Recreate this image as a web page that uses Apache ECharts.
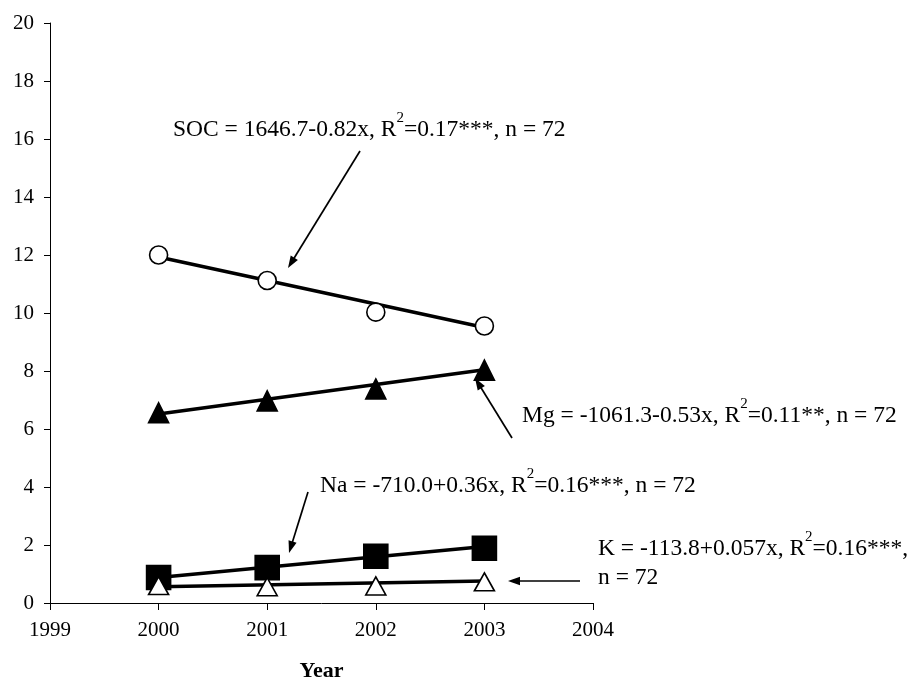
<!DOCTYPE html>
<html>
<head>
<meta charset="utf-8">
<script src="https://cdn.jsdelivr.net/npm/echarts@6/dist/echarts.min.js"></script>
<style>
html,body{margin:0;padding:0;background:#fff;}
#chart{width:909px;height:691px;}
</style>
</head>
<body>
<div id="chart"></div>
<script>
// ---- data ----
const years = [2000, 2001, 2002, 2003];
const socValues = [12.0, 11.12, 10.03, 9.55];
const mgValues = [6.56, 6.97, 7.38, 8.03];
const naValues = [0.88, 1.22, 1.61, 1.89];
const kValues = [0.6, 0.56, 0.59, 0.73];
const trendYears = [2000, 2003];
const socTrend = [11.93, 9.5];
const mgTrend = [6.52, 8.04];
const naTrend = [0.88, 1.95];
const kTrend = [0.56, 0.76];
const xTicks = [1999, 2000, 2001, 2002, 2003, 2004];
const yTicks = [0, 2, 4, 6, 8, 10, 12, 14, 16, 18, 20];
const labelSOC = ['SOC = 1646.7-0.82x, R', '2', '=0.17***, n = 72'];
const labelMg = ['Mg = -1061.3-0.53x, R', '2', '=0.11**, n = 72'];
const labelNa = ['Na = -710.0+0.36x, R', '2', '=0.16***, n = 72'];
const labelK = ['K = -113.8+0.057x, R', '2', '=0.16***,'];
const labelK2 = 'n = 72';

const FONT = "'Times New Roman', 'Liberation Serif', serif";
const EQ_SIZE = 23.5;
const chart = echarts.init(document.getElementById('chart'), null, {renderer: 'canvas'});

function pts(xs, ys) { return xs.map((x, i) => [x, ys[i]]); }

function trendSeries(name, ys, z) {
  return {
    name: name, type: 'line', data: pts(trendYears, ys), symbol: 'none',
    lineStyle: {color: '#000', width: 3.5}, z: z, silent: true, animation: false
  };
}
function markerSeries(name, ys, symbol, size, fill, z) {
  return {
    name: name, type: 'scatter', data: pts(years, ys), symbol: symbol, symbolSize: size,
    itemStyle: {color: fill, borderColor: '#000', borderWidth: 1.6, opacity: 1}, z: z, animation: false
  };
}

const rich = {
  n: {fontFamily: FONT, fontSize: EQ_SIZE, lineHeight: 31, verticalAlign: 'bottom', color: '#000'},
  s: {fontFamily: FONT, fontSize: 15, lineHeight: 15, verticalAlign: 'top', color: '#000'}
};
function eqText(parts, x, y) {
  return {
    type: 'text', x: x, y: y - 4, silent: true,
    style: {
      text: '{n|' + parts[0] + '}{s|' + parts[1] + '}{n|' + parts[2] + '}',
      rich: rich, verticalAlign: 'middle', align: 'left'
    }
  };
}
function plainText(t, x, y) {
  return {
    type: 'text', x: x, y: y, silent: true,
    style: {text: t, fontFamily: FONT, fontSize: EQ_SIZE, fill: '#000', verticalAlign: 'middle', align: 'left'}
  };
}
function arrow(x1, y1, x2, y2) {
  const a = Math.atan2(y2 - y1, x2 - x1);
  const L = 12, W = 4.2;
  const c = Math.cos(a), s = Math.sin(a);
  const bx = x2 - L * c, by = y2 - L * s;
  return [
    {type: 'line', silent: true, shape: {x1: x1, y1: y1, x2: bx + 2 * c, y2: by + 2 * s},
     style: {stroke: '#000', lineWidth: 1.7}},
    {type: 'polygon', silent: true,
     shape: {points: [[x2, y2], [bx - W * s, by + W * c], [bx + W * s, by - W * c]]},
     style: {fill: '#000'}}
  ];
}

const graphics = [].concat(
  [eqText(labelSOC, 173, 130), eqText(labelMg, 522, 416), eqText(labelNa, 320, 486),
   eqText(labelK, 598, 549), plainText(labelK2, 598, 578)],
  arrow(360, 151, 288, 268),
  arrow(512, 438, 475, 378),
  arrow(308, 492, 289, 553),
  arrow(580, 581, 508, 581)
);

const option = {
  backgroundColor: '#fff',
  animation: false,
  grid: {left: 50, right: 316, top: 23, bottom: 88, containLabel: false},
  xAxis: {
    type: 'value', min: xTicks[0], max: xTicks[xTicks.length - 1], interval: 1,
    name: 'Year', nameLocation: 'middle', nameGap: 57,
    nameTextStyle: {fontFamily: FONT, fontSize: 22, fontWeight: 'bold', color: '#000'},
    axisLine: {show: true, onZero: false, lineStyle: {color: '#000', width: 1}},
    axisTick: {show: true, length: 7, lineStyle: {color: '#000'}},
    axisLabel: {fontFamily: FONT, fontSize: 21, color: '#000', margin: 17,
      formatter: v => String(v)},
    splitLine: {show: false}
  },
  yAxis: {
    type: 'value', min: yTicks[0], max: yTicks[yTicks.length - 1], interval: 2,
    axisLine: {show: true, lineStyle: {color: '#000', width: 1}},
    axisTick: {show: true, length: 6, lineStyle: {color: '#000'}},
    axisLabel: {fontFamily: FONT, fontSize: 21, color: '#000', margin: 16},
    splitLine: {show: false}
  },
  series: [
    trendSeries('SOC trend', socTrend, 2),
    trendSeries('Mg trend', mgTrend, 2),
    trendSeries('Na trend', naTrend, 2),
    trendSeries('K trend', kTrend, 2),
    markerSeries('SOC', socValues, 'circle', 18, '#fff', 5),
    markerSeries('Mg', mgValues, 'triangle', [20, 20], '#000', 5),
    markerSeries('Na', naValues, 'rect', 24, '#000', 5),
    markerSeries('K', kValues, 'triangle', [20, 18], '#fff', 6)
  ],
  graphic: graphics
};
chart.setOption(option);
</script>
</body>
</html>
